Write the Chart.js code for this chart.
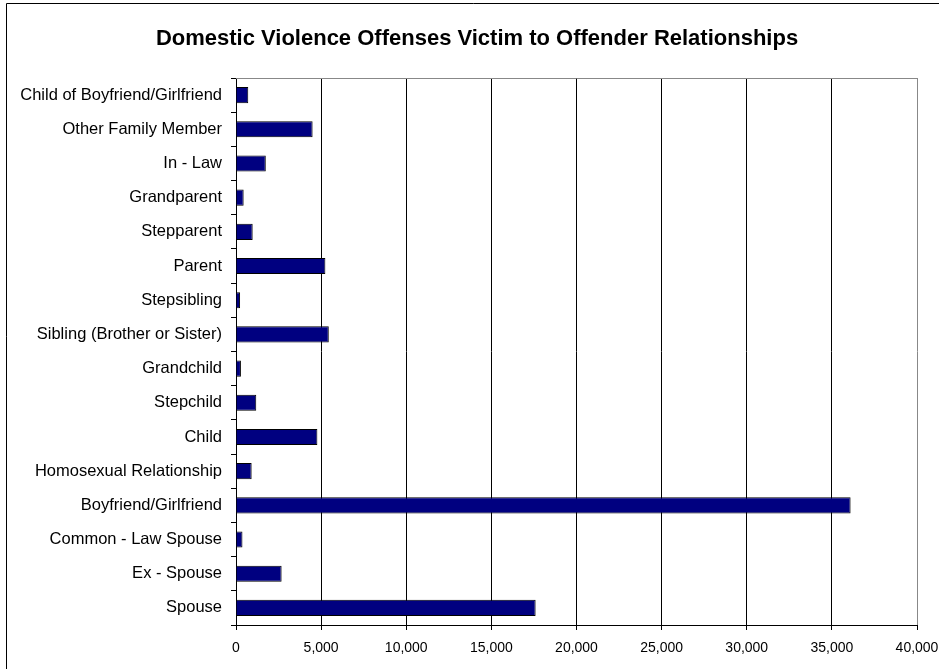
<!DOCTYPE html>
<html>
<head>
<meta charset="utf-8">
<script src="https://cdn.jsdelivr.net/npm/chart.js@4.4.0/dist/chart.umd.min.js"></script>
<style>
  html, body { margin: 0; padding: 0; background: #fff; }
  #wrap { width: 939px; height: 669px; }
</style>
</head>
<body>
<div id="wrap"><canvas id="chart" width="939" height="669"></canvas></div>
<script>
// Chart data
const relationships = [
    'Child of Boyfriend/Girlfriend',
    'Other Family Member',
    'In - Law',
    'Grandparent',
    'Stepparent',
    'Parent',
    'Stepsibling',
    'Sibling (Brother or Sister)',
    'Grandchild',
    'Stepchild',
    'Child',
    'Homosexual Relationship',
    'Boyfriend/Girlfriend',
    'Common - Law Spouse',
    'Ex - Spouse',
    'Spouse'
];
const offenses = [720, 4500, 1750, 450, 980, 5250, 240, 5450, 290, 1190, 4780, 920, 36100, 380, 2680, 17600];
const xTicks = [0, 5000, 10000, 15000, 20000, 25000, 30000, 35000, 40000];

const FONT = 'Arial, "Liberation Sans", sans-serif';

// Draws the outer frame and the grey top edge of the plot
const framePlugin = {
    id: 'frame',
    afterLayout(chart) {
        // the title sits a little right of the canvas centre in the original
        if (chart.titleBlock) chart.titleBlock.left = 37;
    },
    afterDraw(chart) {
        const ctx = chart.ctx;
        const area = chart.chartArea;
        ctx.save();
        ctx.strokeStyle = '#888';
        ctx.lineWidth = 1;
        ctx.beginPath();
        ctx.moveTo(area.left, Math.round(area.top) + 0.5);
        ctx.lineTo(area.right, Math.round(area.top) + 0.5);
        ctx.stroke();
        ctx.strokeStyle = '#000';
        ctx.beginPath();
        ctx.moveTo(6.5, chart.height + 1);
        ctx.lineTo(6.5, 3.5);
        ctx.lineTo(chart.width + 1, 3.5);
        ctx.stroke();
        ctx.restore();
    }
};

new Chart(document.getElementById('chart').getContext('2d'), {
    type: 'bar',
    data: {
        labels: relationships,
        datasets: [{
            label: 'Offenses',
            data: offenses,
            backgroundColor: '#000080',
            borderColor: '#000',
            borderWidth: 1,
            barPercentage: 0.47,
            categoryPercentage: 1
        }]
    },
    options: {
        indexAxis: 'y',
        responsive: false,
        animation: false,
        layout: { padding: { left: 0, right: 22, top: 0, bottom: 0 } },
        plugins: {
            legend: { display: false },
            tooltip: { enabled: false },
            title: {
                display: true,
                text: 'Domestic Violence Offenses Victim to Offender Relationships',
                color: '#000',
                font: { family: FONT, size: 22, weight: 'bold' },
                padding: { top: 25.8, bottom: 25.8 }
            }
        },
        scales: {
            x: {
                min: 0,
                max: 40000,
                afterBuildTicks(scale) {
                    scale.ticks = xTicks.map(v => ({ value: v }));
                },
                afterFit(scale) {
                    scale.height = 44;
                    scale.paddingLeft = 0;
                    scale.paddingRight = 0;
                },
                grid: {
                    color: ctx => (ctx.tick && ctx.tick.value === 40000) ? '#888' : '#000',
                    tickColor: '#000',
                    tickLength: 5,
                    lineWidth: 1
                },
                border: { display: true, color: '#000', width: 1 },
                ticks: {
                    color: '#000',
                    padding: 10,
                    maxRotation: 0,
                    font: { family: FONT, size: 14 },
                    callback: v => v.toLocaleString('en-US')
                }
            },
            y: {
                afterFit(scale) { scale.width = 236; },
                grid: {
                    drawOnChartArea: false,
                    offset: true,
                    tickColor: '#000',
                    tickLength: 5
                },
                border: { display: true, color: '#000', width: 1 },
                ticks: {
                    color: '#000',
                    padding: 9,
                    font: { family: FONT, size: 16.5 }
                }
            }
        }
    },
    plugins: [framePlugin]
});
</script>
</body>
</html>
